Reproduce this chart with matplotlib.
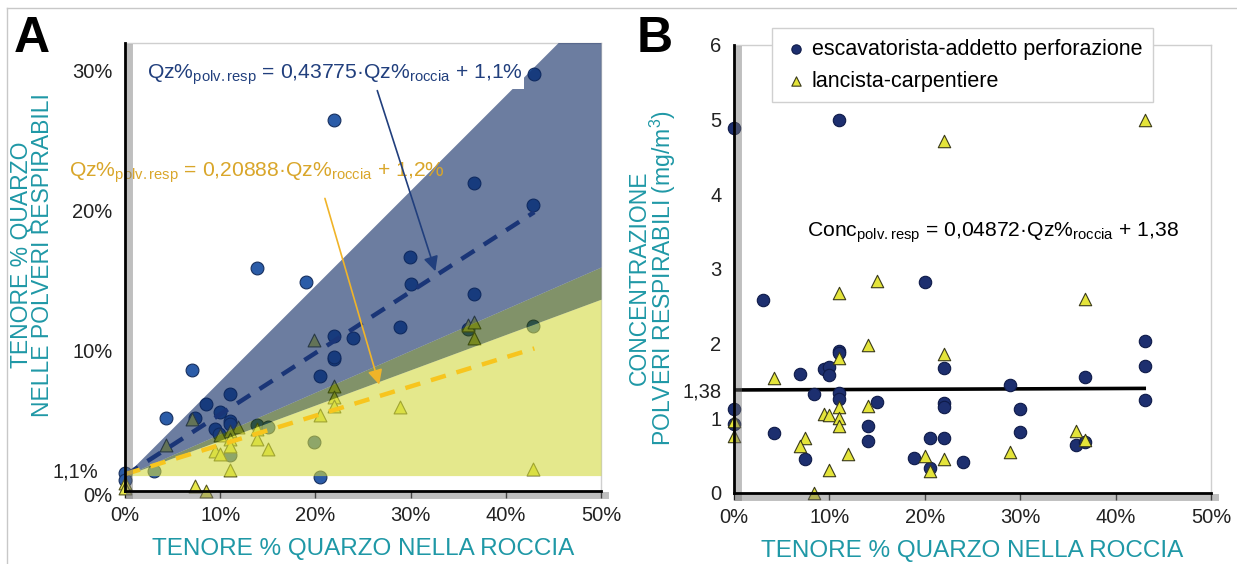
import numpy as np
import matplotlib
matplotlib.use("Agg")
import matplotlib.pyplot as plt
import matplotlib.patheffects as pe
from matplotlib.lines import Line2D
from matplotlib.transforms import ScaledTranslation

FONT = "Liberation Sans"
plt.rcParams["font.family"] = [FONT, "DejaVu Sans"]
plt.rcParams["mathtext.fontset"] = "custom"
plt.rcParams["mathtext.rm"] = FONT
plt.rcParams["mathtext.it"] = FONT
plt.rcParams["mathtext.default"] = "regular"

# ---- panel A: quartz in respirable dust vs quartz in rock (%) ----
a_esc_x = [43, 22, 36.7, 42.9, 29.9, 13.9, 19.0, 30.0, 36.7, 28.9, 22.0, 24.0, 22.0, 22.0,
           7.0, 20.5, 11.0, 8.5, 10.0, 4.3, 7.4, 11.0, 11.0, 9.5, 9.9, 13.9, 15.0, 19.9,
           11.0, 3.0, 0.0, 0.0, 20.5, 42.9, 36.0]
a_esc_y = [29.8, 26.5, 22.0, 20.4, 16.7, 15.9, 14.9, 14.8, 14.1, 11.7, 11.1, 10.9, 9.4, 9.6,
           8.65, 8.25, 6.9, 6.2, 5.65, 5.2, 5.2, 5.0, 4.8, 4.45, 4.1, 4.75, 4.6, 3.5,
           2.6, 1.4, 1.3, 0.8, 1.0, 11.8, 11.6]
a_lan_x = [36.0, 36.7, 36.7, 19.9, 22.0, 22.0, 22.0, 28.9, 20.5, 7.0, 11.9, 11.0, 13.9, 13.9,
           15.0, 10.0, 11.0, 11.0, 9.5, 10.0, 4.3, 11.0, 42.9, 0.0, 0.0, 7.4, 8.5]
a_lan_y = [11.85, 12.1, 10.9, 10.8, 7.5, 6.7, 6.1, 6.0, 5.4, 5.15, 4.6, 4.3, 4.4, 3.75,
           3.0, 4.0, 3.7, 3.2, 2.85, 2.65, 3.3, 1.5, 1.6, 0.55, 0.2, 0.35, 0.0]

# regressions written on the chart
a_esc_fit = (0.43775, 1.1)
a_lan_fit = (0.20888, 1.2)
# shaded bands (slopes, common apex at 1,1%)
band_apex = 1.1
band_esc = (0.252, 0.680)
band_lan = (0.0, 0.298)

a_xticks = [0, 10, 20, 30, 40, 50]
a_xlabels = ["0%", "10%", "20%", "30%", "40%", "50%"]
a_yticks = [0, 1.1, 10, 20, 30]
a_ylabels = ["0%", "1,1%", "10%", "20%", "30%"]

# ---- panel B: respirable dust concentration (mg/m3) vs quartz in rock (%) ----
b_esc_x = [0, 11, 3, 20, 43.1, 43.1, 43.1, 36.8, 28.9, 30.0, 30.0, 35.9, 36.8, 22.0, 22.0,
           22.0, 22.0, 20.5, 20.5, 18.9, 24.0, 15.0, 14.0, 14.0, 11.0, 11.0, 11.0, 11.0,
           9.4, 10.0, 10.0, 8.4, 6.9, 4.2, 7.4, 0.0, 0.0]
b_esc_y = [4.89, 5.0, 2.59, 2.82, 2.04, 1.70, 1.24, 1.56, 1.44, 1.13, 0.82, 0.64, 0.68, 1.68, 1.20,
           1.15, 0.73, 0.74, 0.33, 0.47, 0.41, 1.22, 0.90, 0.70, 1.90, 1.87, 1.34, 1.26,
           1.66, 1.69, 1.58, 1.32, 1.60, 0.80, 0.46, 1.13, 0.92]
b_lan_x = [22, 43.1, 15.0, 11.0, 36.8, 14.0, 22.0, 11.0, 4.2, 14.0, 11.0, 9.4, 10.0, 11.0,
           11.0, 0, 0, 7.4, 6.9, 12.0, 10.0, 8.4, 20.0, 20.5, 22.0, 28.9, 35.9, 36.8]
b_lan_y = [4.72, 5.0, 2.84, 2.68, 2.60, 1.98, 1.86, 1.81, 1.54, 1.17, 1.15, 1.06, 1.04, 1.01,
           0.90, 0.96, 0.76, 0.73, 0.63, 0.52, 0.31, 0.0, 0.49, 0.30, 0.45, 0.55, 0.83, 0.71]
b_fit = (0.04872, 1.38)   # x as fraction

b_yticks = [0, 1, 1.38, 2, 3, 4, 5, 6]
b_ylabels = ["0", "1", "1,38", "2", "3", "4", "5", "6"]

TEAL = "#1f98a6"
NAVY = "#213f7d"
GOLD = "#d9a62a"
W, H = 1237, 564
TICK_FS = 14.5
LABEL_FS = 17.5
EQ_FS = 15.2


def style_axes(ax, grid_x, grid_y):
    ax.set_xticks(a_xticks)
    ax.set_xticklabels(a_xlabels)
    ax.set_xticks(grid_x, minor=True)
    ax.set_yticks(grid_y, minor=True)
    ax.grid(which="minor", color="#d6d6d6", lw=1, zorder=0)
    ax.tick_params(which="minor", length=0)
    ax.tick_params(axis="x", which="major", length=5, width=1, direction="out",
                   labelsize=TICK_FS, colors="#222222", pad=6)
    ax.tick_params(axis="y", which="major", length=0, labelsize=TICK_FS, colors="#222222",
                   pad=9)
    for s in ("top", "right"):
        ax.spines[s].set_color("#cfcfcf")
        ax.spines[s].set_linewidth(1)
    shadow = [pe.SimpleLineShadow(offset=(3, -3), shadow_color="0.45", alpha=0.45, linewidth=5),
              pe.Normal()]
    for s in ("left", "bottom"):
        ax.spines[s].set_color("black")
        ax.spines[s].set_linewidth(2)
        ax.spines[s].set_path_effects(shadow)
        ax.spines[s].set_zorder(6)


def nudge(label, dx_px, dy_px):
    label.set_transform(label.get_transform() +
                        ScaledTranslation(dx_px / 100, dy_px / 100, fig.dpi_scale_trans))


fig = plt.figure(figsize=(W / 100, H / 100), dpi=100)

# ---------------- A ----------------
axA = fig.add_axes([125 / W, 1 - 491 / H, (601 - 125) / W, (491 - 43) / H])
axA.set_xlim(0, 50)
axA.set_ylim(0, 32)
style_axes(axA, [10, 20, 30, 40], [10, 20, 30])
axA.set_yticks(a_yticks)
axA.set_yticklabels(a_ylabels)
ylabs = axA.get_yticklabels()
nudge(ylabs[1], -14, 6)
nudge(ylabs[0], 0, -3)

axA.scatter(a_esc_x, a_esc_y, s=85, marker="o", c="#2b5ca8", edgecolors="#17305f",
            linewidths=0.8, zorder=2, clip_on=False)
axA.scatter(a_lan_x, a_lan_y, s=85, marker="^", c="#e8e84a", edgecolors="#55551e",
            linewidths=0.8, zorder=2, clip_on=False)

bx = np.array([0, 50])
esc_lo = band_apex + band_esc[0] * bx
lan_hi = band_apex + band_lan[1] * bx
esc_hi = band_apex + band_esc[1] * bx
axA.fill_between(bx, band_apex + band_lan[0] * bx, esc_lo, color="#d2d93f", alpha=0.6,
                 lw=0, zorder=3)
axA.fill_between(bx, esc_lo, lan_hi, color="#2e4a05", alpha=0.6, lw=0, zorder=3)
axA.fill_between(bx, lan_hi, esc_hi, color="#0a2661", alpha=0.6, lw=0, zorder=3)

fx = np.array([0, 43])
axA.plot(fx, a_esc_fit[0] * fx + a_esc_fit[1], color="#1a3577", lw=3.2, ls=(0, (3.5, 2.5)),
         zorder=4)
axA.plot(fx, a_lan_fit[0] * fx + a_lan_fit[1], color="#f7c51e", lw=3.2, ls=(0, (3.5, 2.5)),
         zorder=4)

eq_esc = r"Qz%$_{\mathrm{polv.resp}}$ = 0,43775·Qz%$_{\mathrm{roccia}}$ + 1,1%"
eq_lan = r"Qz%$_{\mathrm{polv.resp}}$ = 0,20888·Qz%$_{\mathrm{roccia}}$ + 1,2%"
axA.text(2.3, 29.7, eq_esc, fontsize=EQ_FS, color=NAVY, ha="left", va="center", zorder=5,
         bbox=dict(facecolor="white", edgecolor="none", pad=1))
# white box under the band, text above it
axA.text(-5.9, 22.7, eq_lan, fontsize=EQ_FS, color="none", ha="left", va="center", zorder=1,
         bbox=dict(facecolor="white", edgecolor="none", pad=1))
axA.text(-5.9, 22.7, eq_lan, fontsize=EQ_FS, color=GOLD, ha="left", va="center", zorder=5)

axA.annotate("", xy=(32.6, 15.7), xytext=(26.5, 28.6),
             arrowprops=dict(arrowstyle="-|>", color=NAVY, lw=1.2, mutation_scale=22,
                             shrinkA=0, shrinkB=0), zorder=5)
axA.annotate("", xy=(26.7, 7.6), xytext=(21.0, 20.9),
             arrowprops=dict(arrowstyle="-|>", color="#f0b429", lw=1.2, mutation_scale=22,
                             shrinkA=0, shrinkB=0), zorder=5)

axA.set_xlabel("TENORE % QUARZO NELLA ROCCIA", fontsize=LABEL_FS, color=TEAL, labelpad=9)
fig.text(32 / W, 1 - 255 / H, "TENORE % QUARZO\nNELLE POLVERI RESPIRABILI", rotation=90,
         ha="center", va="center", multialignment="center", fontsize=16.5, color=TEAL,
         linespacing=0.9)
fig.text(14 / W, 1 - 16 / H, "A", fontsize=36, fontweight="bold", ha="left", va="top")

# ---------------- B ----------------
axB = fig.add_axes([734 / W, 1 - 493 / H, (1211 - 734) / W, (493 - 45) / H])
axB.set_xlim(0, 50)
axB.set_ylim(0, 6)
style_axes(axB, [10, 20, 30, 40], [1, 2, 3, 4, 5])
axB.set_yticks(b_yticks)
axB.set_yticklabels(b_ylabels)

fb = np.array([0, 43])
axB.plot(fb, b_fit[0] * fb / 100 + b_fit[1], color="black", lw=2.6, zorder=3)
h1 = axB.scatter(b_esc_x, b_esc_y, s=80, marker="o", c="#1d2f6f", edgecolors="#0e1a48",
                 linewidths=0.8, zorder=4, clip_on=False,
                 label="escavatorista-addetto perforazione")
h2 = axB.scatter(b_lan_x, b_lan_y, s=80, marker="^", c="#e4e43a", edgecolors="#3a3a1a",
                 linewidths=0.8, zorder=4, clip_on=False, label="lancista-carpentiere")
axB.text(7.6, 3.48, r"Conc$_{\mathrm{polv.resp}}$ = 0,04872·Qz%$_{\mathrm{roccia}}$ + 1,38",
         fontsize=EQ_FS, color="black", ha="left", va="center", zorder=5,
         bbox=dict(facecolor="white", edgecolor="none", pad=1))

leg = fig.legend(handles=[h1, h2], loc="upper left", bbox_to_anchor=(772 / W, 1 - 28 / H),
                 borderaxespad=0, fontsize=15.5, frameon=True, fancybox=False,
                 edgecolor="#d0d0d0", handletextpad=0.15, handlelength=1.2, borderpad=0.5,
                 labelspacing=0.5, markerscale=0.75, framealpha=1)
leg.get_frame().set_linewidth(1)

axB.set_xlabel("TENORE % QUARZO NELLA ROCCIA", fontsize=LABEL_FS, color=TEAL, labelpad=9)
fig.text(653 / W, 1 - 278 / H, "CONCENTRAZIONE\nPOLVERI RESPIRABILI (mg/m$^3$)", rotation=90,
         ha="center", va="center", multialignment="center", fontsize=16.5, color=TEAL,
         linespacing=0.9)
fig.text(637 / W, 1 - 16 / H, "B", fontsize=36, fontweight="bold", ha="left", va="top")

# thin outer frame (top and left edges)
fig.add_artist(Line2D([7 / W, 1], [1 - 8 / H, 1 - 8 / H], color="#c8c8c8", lw=1))
fig.add_artist(Line2D([7 / W, 7 / W], [0, 1 - 8 / H], color="#c8c8c8", lw=1))

fig.savefig("out.png", dpi=100)
